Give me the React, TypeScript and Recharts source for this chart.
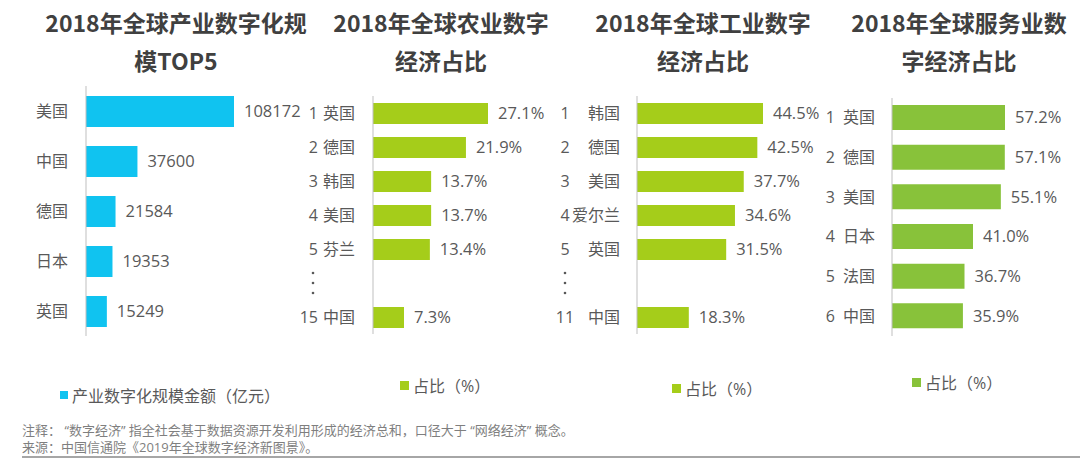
import React from 'react';
import { BarChart, Bar, XAxis, YAxis, LabelList } from 'recharts';

// 产业数字化规模 TOP5 (亿元)
const industryCountries = ['美国', '中国', '德国', '日本', '英国'];
const industryValues = [108172, 37600, 21584, 19353, 15249];

// 农业数字经济占比 (%)
const agriRanks = ['1', '2', '3', '4', '5', '⋮', '15'];
const agriCountries = ['英国', '德国', '韩国', '美国', '芬兰', '', '中国'];
const agriValues = [27.1, 21.9, 13.7, 13.7, 13.4, null, 7.3];

// 工业数字经济占比 (%)
const indRanks = ['1', '2', '3', '4', '5', '⋮', '11'];
const indCountries = ['韩国', '德国', '美国', '爱尔兰', '英国', '', '中国'];
const indValues = [44.5, 42.5, 37.7, 34.6, 31.5, null, 18.3];

// 服务业数字经济占比 (%)
const servRanks = ['1', '2', '3', '4', '5', '6'];
const servCountries = ['英国', '德国', '美国', '日本', '法国', '中国'];
const servValues = [57.2, 57.1, 55.1, 41.0, 36.7, 35.9];

const FONT = "'Open Sans', 'Noto Sans CJK SC', sans-serif";
const TITLE_FONT = "'Noto Sans CJK SC', sans-serif";
const TEXT = '#595959';
const AXIS = '#bfbfbf';
const BLUE = '#10c3f0';
const LIME = '#a5cd1a';
const GREEN = '#88c23a';

const rankData = (ranks: string[], names: string[], values: (number | null)[]) =>
  ranks.map((r, i) => ({ key: `${r}|${names[i]}`, value: values[i] }));

const pct = (v: any) => (v == null ? '' : `${Number(v).toFixed(1)}%`);

const rankTick =
  (rankX: number, rankAnchor: string, nameX: number, dotsX: number) => (props: any) => {
    const { x, y, payload } = props;
    const [rank, name] = String(payload.value).split('|');
    if (rank === '⋮') {
      return (
        <g>
          {[-10, 0, 10].map((d) => (
            <circle key={d} cx={x - dotsX} cy={y + d} r={1.3} fill={TEXT} />
          ))}
        </g>
      );
    }
    return (
      <g fontFamily={FONT} fontSize={16} fill={TEXT}>
        <text x={x - rankX} y={y} dy="0.35em" textAnchor={rankAnchor as any}>{rank}</text>
        <text x={x - nameX} y={y} dy="0.35em" textAnchor="end">{name}</text>
      </g>
    );
  };

const plainTick = (props: any) => {
  const { x, y, payload } = props;
  return (
    <text x={x - 18} y={y} dy="0.35em" textAnchor="end" fontFamily={FONT} fontSize={16} fill={TEXT}>
      {payload.value}
    </text>
  );
};

interface PanelProps {
  data: any[];
  left: number;
  top: number;
  width: number;
  height: number;
  yWidth: number;
  plotWidth: number;
  color: string;
  barSize: number;
  tick: any;
  fmt?: (v: any) => string;
}

const Panel = ({ data, left, top, width, height, yWidth, plotWidth, color, barSize, tick, fmt }: PanelProps) => (
  <div style={{ position: 'absolute', left, top }}>
    <BarChart
      layout="vertical"
      width={width}
      height={height}
      data={data}
      margin={{ top: 10, bottom: 10, left: 0, right: width - yWidth - plotWidth }}
    >
      <XAxis type="number" hide domain={[0, 'dataMax']} />
      <YAxis
        type="category"
        dataKey="key"
        width={yWidth}
        axisLine={{ stroke: AXIS }}
        tickLine={false}
        tickSize={0}
        tickMargin={0}
        tick={tick}
        interval={0}
      />
      <Bar dataKey="value" fill={color} barSize={barSize} isAnimationActive={false}>
        <LabelList
          dataKey="value"
          position="right"
          offset={10}
          formatter={fmt}
          fill={TEXT}
          fontSize={16.5}
          fontFamily={FONT}
        />
      </Bar>
    </BarChart>
  </div>
);

const Title = ({ cx, children }: { cx: number; children: React.ReactNode }) => (
  <div
    style={{
      position: 'absolute',
      left: cx - 160,
      width: 320,
      top: 3,
      textAlign: 'center',
      fontFamily: TITLE_FONT,
      fontWeight: 700,
      fontSize: 23,
      lineHeight: '38px',
      color: '#404040',
    }}
  >
    {children}
  </div>
);

const LegendItem = ({ x, cy, color, label, size = 9 }: { x: number; cy: number; color: string; label: string; size?: number }) => (
  <div
    style={{
      position: 'absolute',
      left: x,
      top: cy - 12,
      height: 24,
      display: 'flex',
      alignItems: 'center',
      fontFamily: FONT,
      fontSize: 16,
      color: TEXT,
      whiteSpace: 'nowrap',
    }}
  >
    <span style={{ width: size, height: size, background: color, marginRight: 4 }} />
    {label}
  </div>
);

export default function App() {
  const industryData = industryCountries.map((c, i) => ({ key: c, value: industryValues[i] }));
  const agriData = rankData(agriRanks, agriCountries, agriValues);
  const indData = rankData(indRanks, indCountries, indValues);
  const servData = rankData(servRanks, servCountries, servValues);

  return (
    <div style={{ position: 'absolute', left: 0, top: 0, width: 1080, height: 458, background: '#fff', overflow: 'hidden' }}>
      <Title cx={176}>2018年全球产业数字化规<br />模TOP5</Title>
      <Title cx={441}>2018年全球农业数字<br />经济占比</Title>
      <Title cx={703}>2018年全球工业数字<br />经济占比</Title>
      <Title cx={959}>2018年全球服务业数<br />字经济占比</Title>

      <Panel data={industryData} left={0} top={76} width={340} height={270} yWidth={86} plotWidth={148}
        color={BLUE} barSize={31} tick={plainTick} />
      <Panel data={agriData} left={290} top={86} width={270} height={258} yWidth={83} plotWidth={115}
        color={LIME} barSize={21} tick={rankTick(55, 'end', 18, 60)} fmt={pct} />
      <Panel data={indData} left={550} top={86} width={270} height={258} yWidth={87} plotWidth={126}
        color={LIME} barSize={21} tick={rankTick(72, 'middle', 17, 72)} fmt={pct} />
      <Panel data={servData} left={810} top={88} width={270} height={258} yWidth={82} plotWidth={113}
        color={GREEN} barSize={25} tick={rankTick(57, 'end', 17, 60)} fmt={pct} />

      <LegendItem x={60} cy={395} color={BLUE} label="产业数字化规模金额（亿元）" size={8} />
      <LegendItem x={400} cy={385} color={LIME} label="占比（%）" />
      <LegendItem x={672} cy={388} color={LIME} label="占比（%）" />
      <LegendItem x={912} cy={382} color={GREEN} label="占比（%）" />

      <div
        style={{
          position: 'absolute',
          left: 22,
          top: 422,
          fontFamily: FONT,
          fontSize: 13,
          lineHeight: '17px',
          color: '#7f7f7f',
          whiteSpace: 'pre',
        }}
      >
        <div>注释： “数字经济” 指全社会基于数据资源开发利用形成的经济总和，口径大于 “网络经济” 概念。</div>
        <div>来源：中国信通院《2019年全球数字经济新图景》。</div>
      </div>
      <div style={{ position: 'absolute', left: 22, top: 456, width: 1058, height: 2, background: '#a6a6a6' }} />
    </div>
  );
}
